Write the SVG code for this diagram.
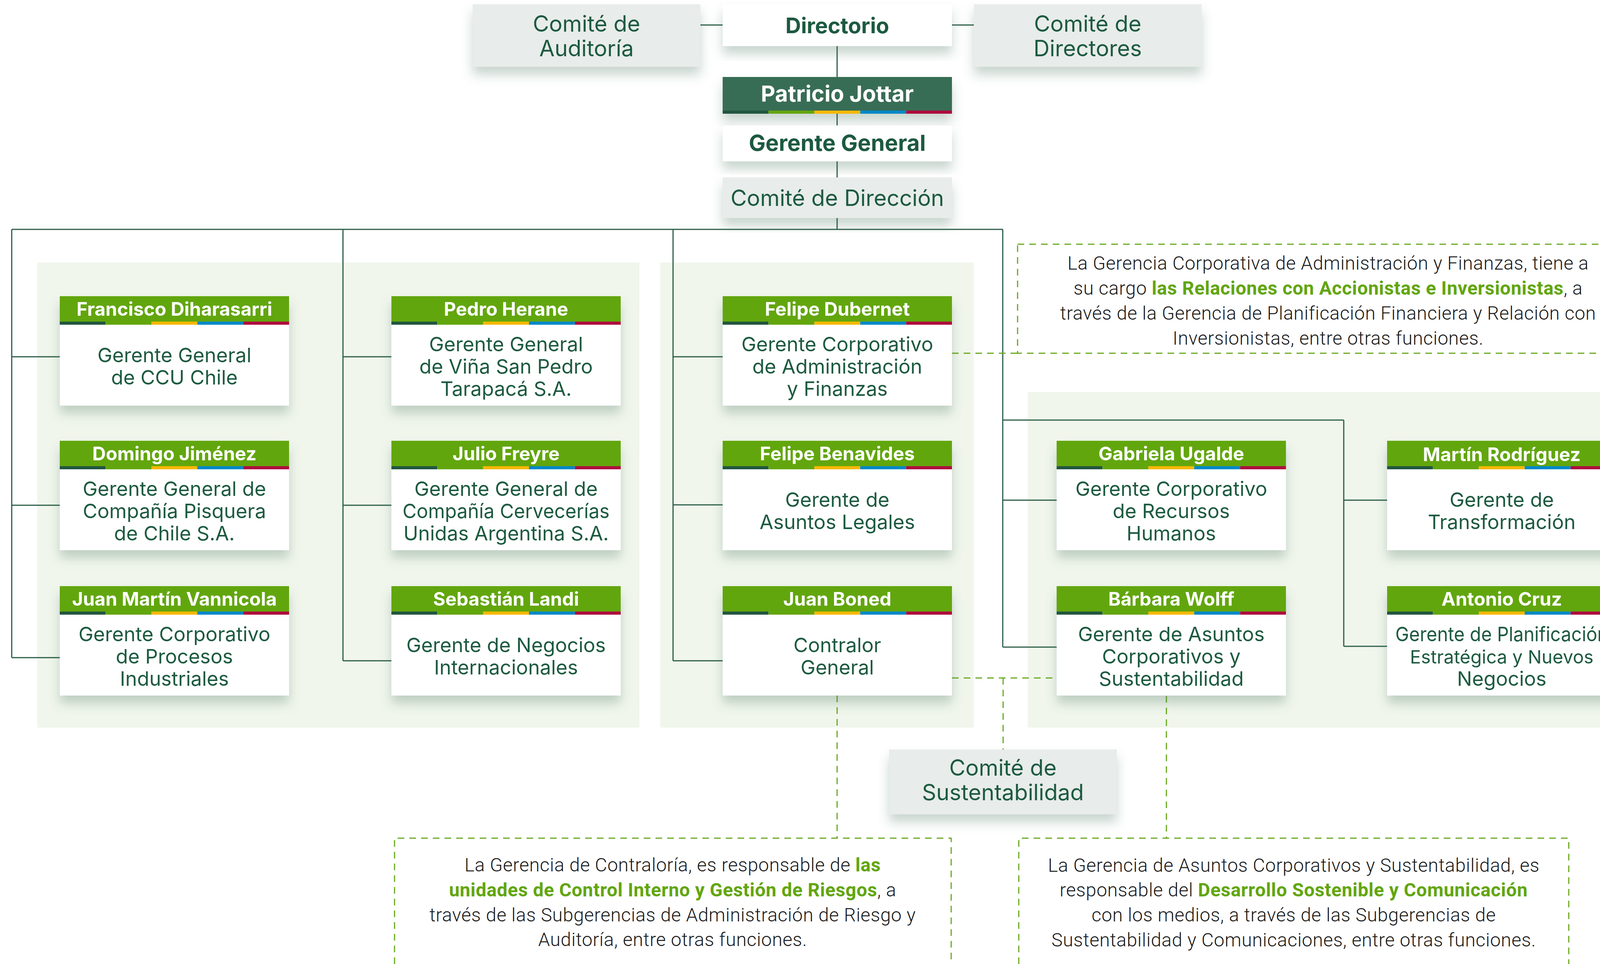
<svg xmlns="http://www.w3.org/2000/svg" xmlns:xlink="http://www.w3.org/1999/xlink" width="4199" height="2467" viewBox="0 0 4199 2467">
<defs>
<style>
.conn{fill:none;stroke:#2c5e48;stroke-width:3}
.dash{fill:none;stroke:#69a91f;stroke-width:3;stroke-dasharray:17 13}
.panel{fill:#f1f6ed}
.hdr{fill:#62a60f}
.body{fill:#ffffff}
.com{fill:#e8eceb}
.name{font-family:Inter,'Noto Sans',sans-serif;font-weight:700;font-size:48px;fill:#ffffff;text-anchor:middle}
.role{font-family:Inter,'Noto Sans',sans-serif;font-size:51px;fill:#1f5a40;text-anchor:middle}
.ctext{font-family:Inter,'Noto Sans',sans-serif;font-size:57px;fill:#1f5a40;text-anchor:middle}
.btext{font-family:Inter,'Noto Sans',sans-serif;font-size:57px;font-weight:700;fill:#1f5a40;text-anchor:middle}
.note{font-family:Roboto,'Liberation Sans',sans-serif;font-size:48px;font-weight:300;letter-spacing:0.7px;fill:#1a1a1a;text-anchor:middle}
.hl{font-weight:700;fill:#62a60f}
</style>
<filter id="sh" x="-10%" y="-15%" width="120%" height="150%">
<feDropShadow dx="0" dy="20" stdDeviation="14" flood-color="#3d6b55" flood-opacity="0.28"/>
</filter>
<g id="bar">
<rect x="0" y="0" width="117.4" height="8" fill="#20573f"/>
<rect x="117.4" y="0" width="117.4" height="8" fill="#62a60f"/>
<rect x="234.8" y="0" width="117.4" height="8" fill="#f7b800"/>
<rect x="352.2" y="0" width="117.4" height="8" fill="#0088c8"/>
<rect x="469.6" y="0" width="117.4" height="8" fill="#ae0a3e"/>
</g>
</defs>
<rect x="0" y="0" width="4199" height="2467" fill="#ffffff"/>

<g id="panels">
<rect class="panel" x="95" y="672" width="1542" height="1190"/>
<rect class="panel" x="1690" y="672" width="803" height="1190"/>
<rect class="panel" x="2631" y="1003" width="1568" height="859"/>
</g>

<g id="connectors">
<path class="conn" d="M1793,64 H1850 M2437,64 H2493"/>
<path class="conn" d="M2143,118 V587"/>
<path class="conn" d="M30,587 H2567"/>
<path class="conn" d="M30,587 V1683 M30,913 H153 M30,1293 H153 M30,1683 H153"/>
<path class="conn" d="M878,587 V1691 M878,913 H1002 M878,1293 H1002 M878,1691 H1002"/>
<path class="conn" d="M1723,587 V1691 M1723,913 H1850 M1723,1292 H1850 M1723,1691 H1850"/>
<path class="conn" d="M2567,587 V1656 M2567,1075 H3440 M2567,1280 H2705 M2567,1656 H2705"/>
<path class="conn" d="M3440,1075 V1654 M3440,1280 H3551 M3440,1654 H3551"/>
<path class="dash" d="M2437,904 H2605"/>
<path class="dash" d="M2437,1735 H2705 M2568,1735 V1918"/>
<path class="dash" d="M2143,1780 V2145"/>
<path class="dash" d="M2986,1781 V2145"/>
</g>

<g id="comite-auditoria" filter="url(#sh)">
<rect class="com" x="1210" y="11" width="583" height="160"/>
<text class="ctext" x="1501.5" y="81">Comité de</text>
<text class="ctext" x="1501.5" y="144">Auditoría</text>
</g>
<g id="directorio" filter="url(#sh)">
<rect class="body" x="1850" y="11" width="587" height="107"/>
<text class="btext" x="2143.5" y="85" style="font-size:55px">Directorio</text>
</g>
<g id="comite-directores" filter="url(#sh)">
<rect class="com" x="2493" y="11" width="583" height="160"/>
<text class="ctext" x="2784.5" y="81">Comité de</text>
<text class="ctext" x="2784.5" y="144">Directores</text>
</g>
<g id="patricio-jottar" filter="url(#sh)">
<rect x="1850" y="197" width="587" height="86" fill="#386d55"/>
<use xlink:href="#bar" x="1850" y="283"/>
<text class="btext" x="2143.5" y="260" style="fill:#ffffff">Patricio Jottar</text>
</g>
<g id="gerente-general" filter="url(#sh)">
<rect class="body" x="1850" y="321" width="587" height="92"/>
<text class="btext" x="2143.5" y="386">Gerente General</text>
</g>
<g id="comite-direccion" filter="url(#sh)">
<rect class="com" x="1850" y="454" width="587" height="104"/>
<text class="ctext" x="2143.5" y="527">Comité de Dirección</text>
</g>

<!-- Column 1 -->
<g id="francisco-diharasarri" filter="url(#sh)">
<rect class="body" x="153" y="758" width="587" height="280"/>
<rect class="hdr" x="153" y="758" width="587" height="65"/>
<use xlink:href="#bar" x="153" y="823"/>
<text class="name" x="446.5" y="808">Francisco Diharasarri</text>
<text class="role" x="446.5" y="927">Gerente General</text>
<text class="role" x="446.5" y="984">de CCU Chile</text>
</g>
<g id="domingo-jimenez" filter="url(#sh)">
<rect class="body" x="153" y="1128" width="587" height="280"/>
<rect class="hdr" x="153" y="1128" width="587" height="65"/>
<use xlink:href="#bar" x="153" y="1193"/>
<text class="name" x="446.5" y="1178">Domingo Jiménez</text>
<text class="role" x="446.5" y="1268.5">Gerente General de</text>
<text class="role" x="446.5" y="1325.5">Compañía Pisquera</text>
<text class="role" x="446.5" y="1382.5">de Chile S.A.</text>
</g>
<g id="juan-martin-vannicola" filter="url(#sh)">
<rect class="body" x="153" y="1500" width="587" height="280"/>
<rect class="hdr" x="153" y="1500" width="587" height="65"/>
<use xlink:href="#bar" x="153" y="1565"/>
<text class="name" x="446.5" y="1550">Juan Martín Vannicola</text>
<text class="role" x="446.5" y="1640.5">Gerente Corporativo</text>
<text class="role" x="446.5" y="1697.5">de Procesos</text>
<text class="role" x="446.5" y="1754.5">Industriales</text>
</g>

<!-- Column 2 -->
<g id="pedro-herane" filter="url(#sh)">
<rect class="body" x="1002" y="758" width="587" height="280"/>
<rect class="hdr" x="1002" y="758" width="587" height="65"/>
<use xlink:href="#bar" x="1002" y="823"/>
<text class="name" x="1295.5" y="808">Pedro Herane</text>
<text class="role" x="1295.5" y="898.5">Gerente General</text>
<text class="role" x="1295.5" y="955.5">de Viña San Pedro</text>
<text class="role" x="1295.5" y="1012.5">Tarapacá S.A.</text>
</g>
<g id="julio-freyre" filter="url(#sh)">
<rect class="body" x="1002" y="1128" width="587" height="280"/>
<rect class="hdr" x="1002" y="1128" width="587" height="65"/>
<use xlink:href="#bar" x="1002" y="1193"/>
<text class="name" x="1295.5" y="1178">Julio Freyre</text>
<text class="role" x="1295.5" y="1268.5">Gerente General de</text>
<text class="role" x="1295.5" y="1325.5" textLength="530" lengthAdjust="spacingAndGlyphs">Compañía Cervecerías</text>
<text class="role" x="1295.5" y="1382.5">Unidas Argentina S.A.</text>
</g>
<g id="sebastian-landi" filter="url(#sh)">
<rect class="body" x="1002" y="1500" width="587" height="280"/>
<rect class="hdr" x="1002" y="1500" width="587" height="65"/>
<use xlink:href="#bar" x="1002" y="1565"/>
<text class="name" x="1295.5" y="1550">Sebastián Landi</text>
<text class="role" x="1295.5" y="1669">Gerente de Negocios</text>
<text class="role" x="1295.5" y="1726">Internacionales</text>
</g>

<!-- Column 3 -->
<g id="felipe-dubernet" filter="url(#sh)">
<rect class="body" x="1850" y="758" width="587" height="280"/>
<rect class="hdr" x="1850" y="758" width="587" height="65"/>
<use xlink:href="#bar" x="1850" y="823"/>
<text class="name" x="2143.5" y="808">Felipe Dubernet</text>
<text class="role" x="2143.5" y="898.5">Gerente Corporativo</text>
<text class="role" x="2143.5" y="955.5">de Administración</text>
<text class="role" x="2143.5" y="1012.5">y Finanzas</text>
</g>
<g id="felipe-benavides" filter="url(#sh)">
<rect class="body" x="1850" y="1128" width="587" height="280"/>
<rect class="hdr" x="1850" y="1128" width="587" height="65"/>
<use xlink:href="#bar" x="1850" y="1193"/>
<text class="name" x="2143.5" y="1178">Felipe Benavides</text>
<text class="role" x="2143.5" y="1297">Gerente de</text>
<text class="role" x="2143.5" y="1354">Asuntos Legales</text>
</g>
<g id="juan-boned" filter="url(#sh)">
<rect class="body" x="1850" y="1500" width="587" height="280"/>
<rect class="hdr" x="1850" y="1500" width="587" height="65"/>
<use xlink:href="#bar" x="1850" y="1565"/>
<text class="name" x="2143.5" y="1550">Juan Boned</text>
<text class="role" x="2143.5" y="1669">Contralor</text>
<text class="role" x="2143.5" y="1726">General</text>
</g>

<!-- Column 4 -->
<g id="gabriela-ugalde" filter="url(#sh)">
<rect class="body" x="2705" y="1128" width="587" height="280"/>
<rect class="hdr" x="2705" y="1128" width="587" height="65"/>
<use xlink:href="#bar" x="2705" y="1193"/>
<text class="name" x="2998.5" y="1178">Gabriela Ugalde</text>
<text class="role" x="2998.5" y="1268.5">Gerente Corporativo</text>
<text class="role" x="2998.5" y="1325.5">de Recursos</text>
<text class="role" x="2998.5" y="1382.5">Humanos</text>
</g>
<g id="barbara-wolff" filter="url(#sh)">
<rect class="body" x="2705" y="1500" width="587" height="280"/>
<rect class="hdr" x="2705" y="1500" width="587" height="65"/>
<use xlink:href="#bar" x="2705" y="1565"/>
<text class="name" x="2998.5" y="1550">Bárbara Wolff</text>
<text class="role" x="2998.5" y="1640.5">Gerente de Asuntos</text>
<text class="role" x="2998.5" y="1697.5">Corporativos y</text>
<text class="role" x="2998.5" y="1754.5">Sustentabilidad</text>
</g>

<!-- Column 5 -->
<g id="martin-rodriguez" filter="url(#sh)">
<rect class="body" x="3551" y="1128" width="587" height="280"/>
<rect class="hdr" x="3551" y="1128" width="587" height="65"/>
<use xlink:href="#bar" x="3551" y="1193"/>
<text class="name" x="3844.5" y="1180">Martín Rodríguez</text>
<text class="role" x="3844.5" y="1297">Gerente de</text>
<text class="role" x="3844.5" y="1354">Transformación</text>
</g>
<g id="antonio-cruz" filter="url(#sh)">
<rect class="body" x="3551" y="1500" width="587" height="280"/>
<rect class="hdr" x="3551" y="1500" width="587" height="65"/>
<use xlink:href="#bar" x="3551" y="1565"/>
<text class="name" x="3844.5" y="1550">Antonio Cruz</text>
<text class="role" x="3844.5" y="1640.5" textLength="545" lengthAdjust="spacingAndGlyphs">Gerente de Planificación</text>
<text class="role" x="3844.5" y="1697.5" style="font-size:47px">Estratégica y Nuevos</text>
<text class="role" x="3844.5" y="1754.5">Negocios</text>
</g>

<g id="comite-sustentabilidad" filter="url(#sh)">
<rect class="com" x="2276" y="1918" width="583" height="166"/>
<text class="ctext" x="2567.5" y="1985">Comité de</text>
<text class="ctext" x="2567.5" y="2048">Sustentabilidad</text>
</g>

<g id="nota-finanzas">
<rect class="dash" x="2605" y="625" width="1591" height="279" style="fill:#ffffff"/>
<text class="note" x="3400" y="690">La Gerencia Corporativa de Administración y Finanzas, tiene a</text>
<text class="note" x="3400" y="754">su cargo <tspan class="hl">las Relaciones con Accionistas e Inversionistas</tspan>, a</text>
<text class="note" x="3400" y="818">través de la Gerencia de Planificación Financiera y Relación con</text>
<text class="note" x="3400" y="882">Inversionistas, entre otras funciones.</text>
</g>

<g id="nota-contraloria">
<path class="dash" d="M1010,2467 V2145 H2435 V2467"/>
<text class="note" x="1722" y="2230">La Gerencia de Contraloría, es responsable de <tspan class="hl">las</tspan></text>
<text class="note" x="1722" y="2294"><tspan class="hl">unidades de Control Interno y Gestión de Riesgos</tspan>, a</text>
<text class="note" x="1722" y="2358">través de las Subgerencias de Administración de Riesgo y</text>
<text class="note" x="1722" y="2421">Auditoría, entre otras funciones.</text>
</g>

<g id="nota-asuntos">
<path class="dash" d="M2608,2467 V2145 H4016 V2467"/>
<text class="note" x="3312" y="2231">La Gerencia de Asuntos Corporativos y Sustentabilidad, es</text>
<text class="note" x="3312" y="2294">responsable del <tspan class="hl">Desarrollo Sostenible y Comunicación</tspan></text>
<text class="note" x="3312" y="2358">con los medios, a través de las Subgerencias de</text>
<text class="note" x="3312" y="2422">Sustentabilidad y Comunicaciones, entre otras funciones.</text>
</g>
</svg>
